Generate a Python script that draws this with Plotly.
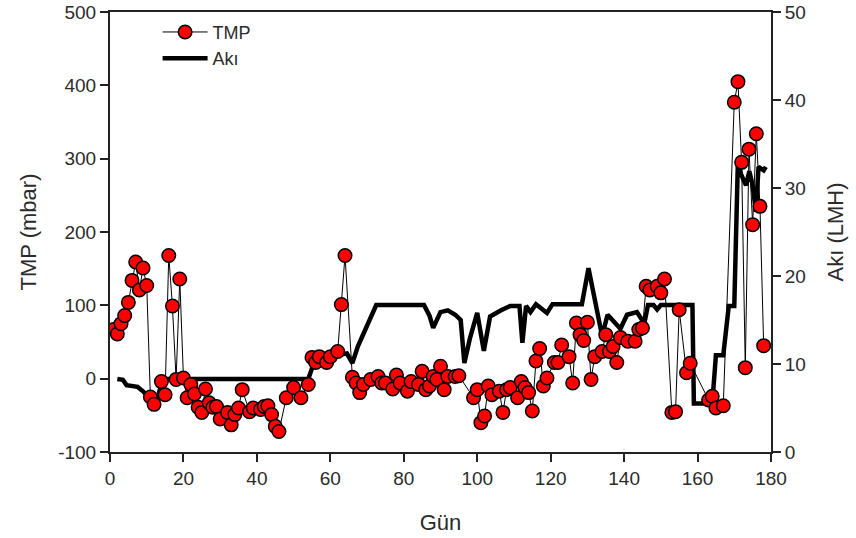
import plotly.graph_objects as go

# TMP (mbar) okumalari
tmp_gun = [1, 2, 3, 4, 5, 6, 7, 8, 9, 10, 11, 12, 14, 15, 16, 17, 18, 19, 20,
           21, 22, 23, 24, 25, 26, 27, 28, 29, 30, 32, 33, 34, 35, 36, 38, 39,
           41, 42, 43, 44, 45, 46, 48, 50, 52, 54, 55, 56, 57, 59, 60, 62, 63,
           64, 66, 67, 68, 69, 71, 73, 74, 75, 77, 78, 79, 81, 82, 84, 85, 86,
           87, 88, 89, 90, 91, 92, 94, 95, 99, 100, 101, 102, 103, 104, 106,
           107, 108, 109, 111, 112, 113, 114, 115, 116, 117, 118, 119, 121,
           122, 123, 125, 126, 127, 128, 129, 130, 131, 132, 134, 135, 136,
           137, 138, 139, 141, 143, 144, 145, 146, 147, 149, 150, 151, 153,
           154, 155, 157, 158, 163, 164, 165, 167, 170, 171, 172, 173, 174,
           175, 176, 177, 178]
tmp = [67, 61, 75, 86, 104, 134, 159, 121, 151, 127, -25, -35, -4, -22, 168,
       99, -1, 136, 1, -26, -8, -21, -39, -46, -14, -33, -39, -38, -55, -46,
       -63, -49, -40, -15, -45, -40, -42, -38, -37, -49, -65, -72, -26, -12,
       -26, -8, 29, 22, 30, 22, 30, 37, 101, 168, 2, -6, -19, -8, -1, 3, -6,
       -6, -14, 5, -6, -17, -4, -8, 10, -15, -10, 3, -1, 17, -15, 3, 3, 4,
       -26, -15, -60, -51, -10, -22, -17, -46, -15, -12, -26, -4, -12, -19,
       -44, 24, 41, -10, 1, 22, 22, 46, 30, -6, 76, 60, 52, 77, -1, 30, 37,
       60, 37, 44, 22, 56, 51, 51, 67, 69, 126, 121, 126, 117, 136, -46, -45,
       94, 8, 21, -29, -24, -40, -37, 377, 405, 295, 15, 313, 210, 334, 235,
       45]

# Aki (LMH)
aki_gun = [2, 3.5, 4.5, 7.5, 9, 11, 12.5, 13.5, 14.5, 15.5, 54, 55.5, 58, 61,
           64.5, 66, 67.5, 72.5, 85.5, 87, 88, 90, 92, 94, 95.5, 96.5, 98, 100,
           101.8, 103.5, 106.5, 109, 111.5, 112.3, 113.3, 114.5, 116, 117.7,
           119, 120.5, 128.5, 130.3, 131.8, 134, 135.5, 139, 140.8, 143.5,
           145.5, 146.5, 148, 149, 150, 158.6, 159, 164, 165, 167, 168.5, 170,
           171, 171.8, 173.2, 174.1, 175, 175.9, 176.6, 178, 178.6]
aki = [8.3, 8.2, 7.6, 7.4, 6.9, 6.0, 5.1, 7.0, 8.0, 8.3, 8.3, 10.1, 11.0, 11.0,
       11.2, 10.1, 12.0, 16.7, 16.7, 15.5, 14.1, 15.9, 16.1, 15.6, 15.0, 10.1,
       12.9, 15.8, 11.5, 15.4, 16.1, 16.6, 16.6, 12.4, 16.6, 15.9, 16.8, 16.2,
       15.8, 16.8, 16.8, 20.9, 17.5, 13.2, 15.6, 14.0, 15.6, 15.9, 14.6, 16.7,
       16.7, 16.2, 16.7, 16.7, 5.5, 5.5, 11.0, 11.0, 16.6, 16.6, 33.3, 31.6,
       30.3, 31.9, 30.3, 27.3, 32.4, 32.0, 32.4]

tmp_tick = [-100, 0, 100, 200, 300, 400, 500]
tmp_tick_yazi = ['-100', '0', '100', '200', '300', '400', '500']

yazi = dict(family="Liberation Sans, Arial, sans-serif", color="#2b2b2b")

fig = go.Figure()
fig.add_trace(go.Scatter(x=aki_gun, y=aki, mode='lines', name='Akı',
                         line=dict(color='black', width=4.5), yaxis='y',
                         legendrank=2))
fig.add_trace(go.Scatter(x=tmp_gun, y=tmp, mode='lines+markers', name='TMP',
                         line=dict(color='black', width=1),
                         marker=dict(color='#ff0000', size=13.5,
                                     line=dict(color='black', width=1.5)),
                         yaxis='y2', legendrank=1))

eksen = dict(showline=True, linecolor='#222', linewidth=2, ticks='outside',
             ticklen=8, tickcolor='#222', tickwidth=1.5, showgrid=False,
             zeroline=False, automargin=False, ticklabeloverflow='allow',
             tickfont=dict(size=19, **yazi))

fig.update_layout(
    width=856, height=538,
    margin=dict(l=110, r=85, t=12, b=86),
    plot_bgcolor='white', paper_bgcolor='white',
    xaxis=dict(range=[0, 180], dtick=20, mirror=True,
               title=dict(text='Gün', font=dict(size=22, **yazi), standoff=27),
               **eksen),
    yaxis=dict(range=[0, 50], dtick=10, side='right',
               title=dict(text='Akı (LMH)', font=dict(size=22, **yazi),
                          standoff=23),
               **eksen),
    yaxis2=dict(range=[-100, 500], tickvals=tmp_tick, ticktext=tmp_tick_yazi,
                side='left', overlaying='y',
                title=dict(text='TMP (mbar)', font=dict(size=22, **yazi),
                           standoff=15),
                **eksen),
    legend=dict(x=0.072, y=0.996, xanchor='left', yanchor='top',
                bgcolor='rgba(0,0,0,0)', itemwidth=45,
                font=dict(size=18, **yazi), tracegroupgap=0),
    showlegend=True,
)

# sayfanin varsayilan 8px kenar boslugunu kaldir, arac cubugunu gizle
fig.write_html("out.html", config={'displayModeBar': False},
               post_script="document.body.style.margin='0';")
